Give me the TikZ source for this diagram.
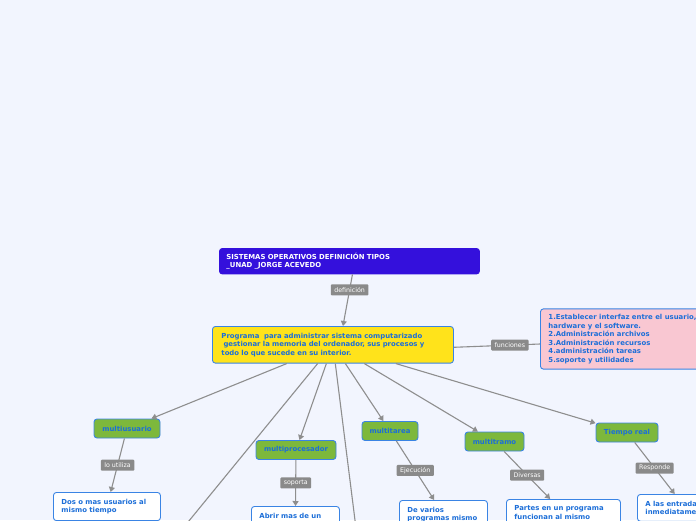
\documentclass[tikz,border=0pt]{standalone}
\usepackage{fontspec}
\setmainfont{DejaVu Sans}
\usepackage{xcolor}
\usetikzlibrary{arrows.meta, positioning, calc}

\definecolor{bgblue}{HTML}{F2F5FE}
\definecolor{titleviolet}{HTML}{3410DC}
\definecolor{mainyellow}{HTML}{FFE31B}
\definecolor{edgeblue}{HTML}{3A84E4}
\definecolor{textblue}{HTML}{1C6ED8}
\definecolor{leafgreen}{HTML}{7DB83C}
\definecolor{notepink}{HTML}{F9C7D2}
\definecolor{taggray}{HTML}{8A8A8A}
\definecolor{linegray}{HTML}{8E8E8E}

\begin{document}
\begin{tikzpicture}[x=1pt, y=-1pt,
  link/.style={draw=linegray, line width=1.1pt},
  arrow/.style={link, -{Triangle[length=5pt, width=6pt]}},
  tag/.style={fill=taggray, text=white, rounded corners=1pt, inner xsep=3.5pt, inner ysep=1.5pt, minimum height=11pt, font=\fontsize{6.3}{7}\selectfont},
  box/.style={draw=edgeblue, line width=0.9pt, rounded corners=3pt, text=textblue, font=\bfseries\fontsize{6.9}{8.5}\selectfont, align=left},
  topic_box/.style={box, fill=leafgreen, minimum height=19pt, inner sep=2pt, align=center},
  leaf_box/.style={box, fill=white, anchor=north west, inner xsep=8pt, inner ysep=6.5pt}
]

  % Canvas
  \useasboundingbox (0,0) rectangle (696,520);
  \fill[bgblue] (0,0) rectangle (696,520);
  \clip (0,0) rectangle (696,520);

  % Title and definition
  \node (title) [box, fill=titleviolet, draw=titleviolet, text=white, anchor=north west, text width=246pt, inner xsep=7pt, inner ysep=4.5pt] at (219,248) {SISTEMAS OPERATIVOS DEFINICIÓN TIPOS\\\_UNAD \_JORGE ACEVEDO};
  \node (main) [box, fill=mainyellow, anchor=north west, text width=223pt, inner xsep=9pt, inner ysep=6.5pt] at (212,326) {Programa \ para administrar sistema computarizado\\\hspace*{0.3em}gestionar la memoria del ordenador, sus procesos y\\todo lo que sucede en su interior.};
  \node (funcs) [box, fill=notepink, anchor=west, inner xsep=8pt, inner ysep=5.5pt] at (540,339) {1.Establecer interfaz entre el usuario,\\hardware y el software.\\2.Administración archivos\\3.Administración recursos\\4.administración tareas\\5.soporte y utilidades};

  % Types
  \node (musr) [topic_box, minimum width=66pt] at (127,428.5) {multiusuario};
  \node (mproc) [topic_box, minimum width=80pt] at (296,450) {multiprocesador};
  \node (mtarea) [topic_box, minimum width=56pt] at (390,431) {multitarea};
  \node (mtramo) [topic_box, minimum width=59pt] at (494.5,441.5) {multitramo};
  \node (treal) [topic_box, minimum width=62pt] at (627,432.5) {Tiempo real};
  \coordinate (offa) at (157,560);
  \coordinate (offb) at (360,560);

  % Descriptions
  \node (dos) [leaf_box, text width=91pt] at (53,492) {Dos o mas usuarios al\\mismo tiempo};
  \node (abrir) [leaf_box, text width=72pt] at (251,506) {Abrir mas de un};
  \node (varios) [leaf_box, text width=72pt] at (399,500) {De varios\\programas mismo};
  \node (partes) [leaf_box, text width=98pt] at (506,499) {Partes en un programa\\funcionan al mismo};
  \node (entradas) [leaf_box, text width=80pt] at (637,494) {A las entradas\\inmediatamente};

  % Connections
  \draw[arrow] ($(title.south)+(3,0)$) -- node[tag, pos=0.3] {definición} ($(main.north)+(10,0)$);
  \draw[link] ($(main.east)+(0,2.5)$) -- node[tag, pos=0.65] {funciones} ($(funcs.west)+(0,5)$);
  \draw[arrow] (main) -- (musr);
  \draw[arrow] (main) -- (offa);
  \draw[arrow] (main) -- (mproc);
  \draw[arrow] (main) -- (offb);
  \draw[arrow] (main) -- (mtarea);
  \draw[arrow] (main) -- (mtramo);
  \draw[arrow] (main) -- (treal);
  \draw[arrow] (musr) -- node[tag] {lo utiliza} (dos);
  \draw[arrow] (mproc) -- node[tag] {soporta} (abrir);
  \draw[arrow] (mtarea) -- node[tag] {Ejecución} (varios);
  \draw[arrow] (mtramo) -- node[tag] {Diversas} (partes);
  \draw[arrow] (treal) -- node[tag] {Responde} (entradas);

\end{tikzpicture}
\end{document}
